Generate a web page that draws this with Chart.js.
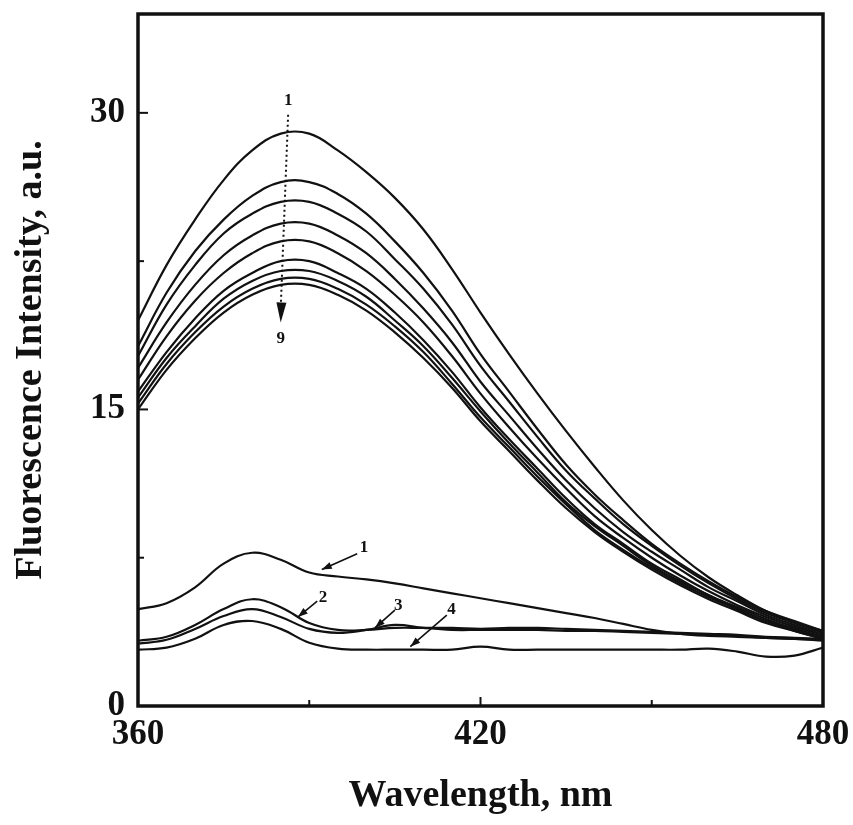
<!DOCTYPE html>
<html>
<head>
<meta charset="utf-8">
<script src="https://cdn.jsdelivr.net/npm/chart.js@4.4.0/dist/chart.umd.min.js"></script>
<style>
  html, body { margin: 0; padding: 0; background: #fff; }
  #wrap { width: 853px; height: 825px; position: relative; }
</style>
</head>
<body>
<div id="wrap"><canvas id="spectra"></canvas></div>
<script>
// wavelength grid (nm)
const wavelengths = [360, 365, 370, 375, 380, 385, 390, 395, 400, 405, 410, 415, 420,
  425, 430, 435, 440, 445, 450, 455, 460, 465, 470, 475, 480];

// quenching series 1..9 (top to bottom)
const curve1 = [19.5, 22.3, 24.6, 26.6, 28.1, 28.95, 28.95, 28.1, 27.0, 25.7, 24.1, 22.1, 19.9,
  17.8, 15.8, 13.9, 12.1, 10.4, 8.9, 7.6, 6.5, 5.6, 4.8, 4.2, 3.8];
const curve2 = [18.2, 20.9, 23.0, 24.6, 25.8, 26.5, 26.5, 25.9, 24.9, 23.5, 21.9, 20.0, 17.8,
  15.9, 14.0, 12.2, 10.7, 9.4, 8.2, 7.2, 6.3, 5.5, 4.8, 4.3, 3.8];
const curve3 = [17.7, 20.3, 22.3, 23.9, 24.9, 25.5, 25.5, 24.9, 24.0, 22.6, 21.1, 19.3, 17.2,
  15.4, 13.6, 11.9, 10.5, 9.2, 8.1, 7.1, 6.2, 5.4, 4.7, 4.2, 3.7];
const curve4 = [17.1, 19.4, 21.3, 22.8, 23.8, 24.4, 24.4, 23.8, 22.9, 21.6, 20.1, 18.4, 16.4,
  14.7, 13.0, 11.4, 10.0, 8.8, 7.8, 6.9, 6.0, 5.3, 4.6, 4.1, 3.6];
const curve5 = [16.5, 18.7, 20.5, 21.9, 22.9, 23.5, 23.5, 22.9, 22.0, 20.8, 19.4, 17.7, 15.8,
  14.1, 12.5, 11.0, 9.6, 8.5, 7.5, 6.6, 5.8, 5.1, 4.5, 4.0, 3.6];
const curve6 = [15.9, 17.9, 19.6, 21.0, 21.9, 22.5, 22.5, 21.9, 21.1, 19.9, 18.5, 16.9, 15.1,
  13.5, 12.0, 10.5, 9.2, 8.2, 7.2, 6.4, 5.6, 5.0, 4.4, 3.9, 3.5];
const curve7 = [15.6, 17.6, 19.2, 20.6, 21.5, 22.0, 22.0, 21.5, 20.7, 19.5, 18.2, 16.6, 14.9,
  13.3, 11.8, 10.3, 9.1, 8.1, 7.1, 6.3, 5.6, 4.9, 4.3, 3.9, 3.5];
const curve8 = [15.3, 17.3, 18.9, 20.2, 21.1, 21.6, 21.6, 21.1, 20.3, 19.2, 17.9, 16.3, 14.6,
  13.1, 11.6, 10.2, 8.9, 7.9, 7.0, 6.2, 5.5, 4.9, 4.3, 3.8, 3.4];
const curve9 = [15.0, 17.0, 18.6, 19.9, 20.8, 21.3, 21.3, 20.8, 20.0, 18.9, 17.6, 16.1, 14.4,
  12.9, 11.4, 10.0, 8.8, 7.8, 6.9, 6.1, 5.4, 4.8, 4.2, 3.8, 3.4];

// low traces labelled 1..4
const low1 = [4.9, 5.2, 6.0, 7.2, 7.75, 7.4, 6.75, 6.55, 6.4, 6.2, 5.95, 5.7, 5.45,
  5.2, 4.95, 4.7, 4.45, 4.15, 3.85, 3.65, 3.55, 3.5, 3.45, 3.4, 3.35];
const low2 = [3.3, 3.5, 4.1, 4.9, 5.4, 5.0, 4.2, 3.85, 3.85, 3.95, 3.95, 3.95, 3.9,
  3.95, 3.95, 3.9, 3.85, 3.8, 3.75, 3.7, 3.65, 3.6, 3.5, 3.45, 3.4];
const low3 = [3.15, 3.35, 3.9, 4.55, 4.9, 4.5, 3.9, 3.7, 3.85, 4.1, 3.95, 3.85, 3.85,
  3.85, 3.85, 3.8, 3.8, 3.75, 3.7, 3.65, 3.6, 3.55, 3.45, 3.4, 3.3];
const low4 = [2.85, 2.95, 3.4, 4.1, 4.3, 3.9, 3.2, 2.9, 2.85, 2.85, 2.85, 2.85, 3.0,
  2.85, 2.85, 2.85, 2.85, 2.85, 2.85, 2.85, 2.9, 2.75, 2.5, 2.55, 2.95];

const xTicks = [360, 390, 420, 450, 480];
const xTickLabels = ["360", "", "420", "", "480"];
const yTicks = [0, 7.5, 15, 22.5, 30];
const yTickLabels = ["0", "", "15", "", "30"];

// annotation anchors, in data units
const quenchArrow = { from: [386.3, 29.9], to: [385.0, 19.4], top: [386.3, 30.6], bottom: [385.0, 18.6] };
const lowTags = [
  { text: "1", at: [399.6, 8.0], from: [398.4, 7.7], to: [392.2, 6.9] },
  { text: "2", at: [392.4, 5.5], from: [391.4, 5.3], to: [388.0, 4.5] },
  { text: "3", at: [405.6, 5.1], from: [405.0, 4.85], to: [401.5, 3.95] },
  { text: "4", at: [414.9, 4.9], from: [414.1, 4.6], to: [407.7, 3.0] },
];

const serif = "'Liberation Serif', 'Times New Roman', serif";
const ink = "#111";

const toPoints = (vals) => vals.map((v, i) => ({ x: wavelengths[i], y: v }));

const allCurves = [curve1, curve2, curve3, curve4, curve5, curve6, curve7, curve8, curve9,
  low1, low2, low3, low4];

const datasets = allCurves.map((vals) => ({
  data: toPoints(vals),
  borderColor: ink,
  borderWidth: 2.2,
  pointRadius: 0,
  fill: false,
  tension: 0.4,
}));

const arrowHead = (ctx, x0, y0, x1, y1, len, half) => {
  const ang = Math.atan2(y1 - y0, x1 - x0);
  ctx.beginPath();
  ctx.moveTo(x1, y1);
  ctx.lineTo(x1 - len * Math.cos(ang) + half * Math.sin(ang), y1 - len * Math.sin(ang) - half * Math.cos(ang));
  ctx.lineTo(x1 - len * Math.cos(ang) - half * Math.sin(ang), y1 - len * Math.sin(ang) + half * Math.cos(ang));
  ctx.closePath();
  ctx.fill();
};

// frame, inward ticks and the arrows/numbers
const decorations = {
  id: "decorations",
  afterDatasetsDraw(chart) {
    const { ctx, chartArea: a, scales: { x, y } } = chart;
    const px = (p) => [x.getPixelForValue(p[0]), y.getPixelForValue(p[1])];
    ctx.save();
    ctx.strokeStyle = ink;
    ctx.fillStyle = ink;

    // inward ticks
    ctx.lineWidth = 2;
    xTicks.forEach((v, i) => {
      const p = x.getPixelForValue(v);
      const len = xTickLabels[i] ? 9 : 6;
      ctx.beginPath();
      ctx.moveTo(p, a.bottom);
      ctx.lineTo(p, a.bottom - len);
      ctx.stroke();
    });
    yTicks.forEach((v, i) => {
      const p = y.getPixelForValue(v);
      const len = yTickLabels[i] ? 10 : 6;
      ctx.beginPath();
      ctx.moveTo(a.left, p);
      ctx.lineTo(a.left + len, p);
      ctx.stroke();
    });

    // frame
    ctx.lineWidth = 3.5;
    ctx.strokeRect(a.left, a.top, a.right - a.left, a.bottom - a.top);

    // dotted quenching arrow
    const [qx0, qy0] = px(quenchArrow.from);
    const [qx1, qy1] = px(quenchArrow.to);
    ctx.lineWidth = 2;
    ctx.setLineDash([2, 3]);
    ctx.beginPath();
    ctx.moveTo(qx0, qy0);
    ctx.lineTo(qx1, qy1 - 14);
    ctx.stroke();
    ctx.setLineDash([]);
    arrowHead(ctx, qx0, qy0, qx1, qy1, 20, 5);

    ctx.font = "bold 17px " + serif;
    ctx.textAlign = "center";
    ctx.textBaseline = "middle";
    let [tx, ty] = px(quenchArrow.top);
    ctx.fillText("1", tx, ty);
    [tx, ty] = px(quenchArrow.bottom);
    ctx.fillText("9", tx, ty);

    // labels for the low traces
    lowTags.forEach((t) => {
      const [fx, fy] = px(t.from);
      const [ex, ey] = px(t.to);
      ctx.lineWidth = 1.6;
      ctx.beginPath();
      ctx.moveTo(fx, fy);
      ctx.lineTo(ex, ey);
      ctx.stroke();
      arrowHead(ctx, fx, fy, ex, ey, 10, 3.5);
      const [lx, ly] = px(t.at);
      ctx.fillText(t.text, lx, ly);
    });
    ctx.restore();
  },
};

new Chart(document.getElementById("spectra"), {
  type: "line",
  data: { datasets },
  options: {
    responsive: true,
    maintainAspectRatio: false,
    animation: false,
    layout: { padding: { top: 14, right: 30, left: 0, bottom: 0 } },
    plugins: { legend: { display: false }, tooltip: { enabled: false } },
    scales: {
      x: {
        type: "linear",
        min: 360,
        max: 480,
        afterFit: (s) => { s.height = 119; s.paddingLeft = 0; s.paddingRight = 0; },
        afterBuildTicks: (s) => { s.ticks = xTicks.map((v) => ({ value: v })); },
        grid: { display: false, drawTicks: false },
        border: { display: false },
        ticks: {
          autoSkip: false,
          maxRotation: 0,
          padding: 8,
          color: ink,
          font: { family: serif, size: 35, weight: "bold" },
          callback: (v) => xTickLabels[xTicks.indexOf(v)] ?? "",
        },
        title: {
          display: true,
          text: "Wavelength, nm",
          color: ink,
          padding: { bottom: 6 },
          font: { family: serif, size: 38, weight: "bold" },
        },
      },
      y: {
        min: 0,
        max: 35,
        afterFit: (s) => { s.width = 138; s.paddingTop = 0; s.paddingBottom = 0; },
        afterBuildTicks: (s) => { s.ticks = yTicks.map((v) => ({ value: v })); },
        grid: { display: false, drawTicks: false },
        border: { display: false },
        ticks: {
          autoSkip: false,
          padding: 13,
          color: ink,
          font: { family: serif, size: 35, weight: "bold" },
          callback: (v) => yTickLabels[yTicks.indexOf(v)] ?? "",
        },
        title: {
          display: true,
          text: "Fluorescence Intensity, a.u.",
          color: ink,
          padding: { top: 8 },
          font: { family: serif, size: 38, weight: "bold" },
        },
      },
    },
  },
  plugins: [decorations],
});
</script>
</body>
</html>
